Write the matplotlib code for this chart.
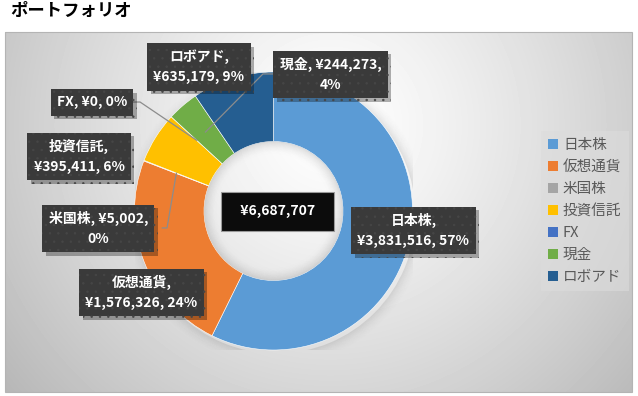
import numpy as np
import matplotlib
matplotlib.use("Agg")
import matplotlib.pyplot as plt
from matplotlib.patches import Rectangle, Wedge
from matplotlib import patheffects as pe

plt.rcParams['font.family'] = ['Noto Sans CJK JP', 'DejaVu Sans']

# データ
labels = ['日本株', '仮想通貨', '米国株', '投資信託', 'FX', '現金', 'ロボアド']
values = [3831516, 1576326, 5002, 395411, 0, 244273, 635179]
colors = ['#5B9BD5', '#ED7D31', '#A5A5A5', '#FFC000', '#4472C4', '#70AD47', '#255E91']

# ラベルの改行位置 (Excel の折り返しを再現)
breaks = ['name', 'name', 'value', 'name', None, 'value', 'name']
# ラベル位置 (データ座標, 半径=1)
label_xy = [(1.007, -0.140), (-0.950, -0.586), (-1.259, -0.126), (-1.399, 0.392),
            (-1.306, 0.781), (0.410, 0.982), (-0.536, 1.036)]
# 引き出し線の始点 (ラベル側) と折れ点
leader = {2: [(-0.80, -0.122), (-0.766, -0.122)],
          4: [(-1.04, 0.784), (-0.960, 0.784)],
          5: [(0.02, 0.986), (-0.076, 0.986)]}

W, H = 638, 396
fig = plt.figure(figsize=(W / 100, H / 100), dpi=100)
fig.patch.set_facecolor('white')

# 背景 (放射状グラデーション)
x0, x1, y0, y1 = 5, 632, 32, 392
bg = fig.add_axes([x0 / W, 1 - y1 / H, (x1 - x0) / W, (y1 - y0) / H])
xx, yy = np.meshgrid(np.arange(x0, x1), np.arange(y0, y1))
r = np.hypot(xx - 330, yy - 125) / 330
grad = np.clip(1 - 0.21 * r ** 1.25, 0, 1)
bg.imshow(grad, cmap='gray', vmin=0, vmax=1, aspect='auto', interpolation='bilinear')
bg.set_axis_off()
fig.add_artist(Rectangle((x0 / W, 1 - y1 / H), (x1 - x0) / W, (y1 - y0) / H,
                         transform=fig.transFigure, fill=False, ec='#b4b4b4', lw=0.8))

fig.text(10 / W, 1 - 11 / H, 'ポートフォリオ', fontsize=12.5, fontweight='bold',
         va='center', ha='left')

# ドーナツ
ax = fig.add_axes([134.5 / W, 1 - 350 / H, 278 / W, 278 / H])
ax.set_facecolor('none')

# 外側の影
for i in range(14):
    ax.add_patch(Wedge((0.02, -0.025), 1.0 + 0.007 * (i + 1), 0, 360, width=0.007,
                       fc='black', ec='none', alpha=0.09 * (1 - i / 14) ** 2, zorder=0))

wedges, _ = ax.pie(values, colors=colors, startangle=90, counterclock=False, radius=1,
                   wedgeprops=dict(width=0.5, edgecolor='white', linewidth=0.4))

# 内側の影
for i in range(14):
    ax.add_patch(Wedge((0.0, 0.0), 0.5 - 0.007 * i, 0, 360, width=0.007,
                       fc='black', ec='none', alpha=0.12 * (1 - i / 14) ** 2, zorder=2))

ax.set_xlim(-1, 1)
ax.set_ylim(-1, 1)
ax.set_axis_off()

total = sum(values)
plt.rcParams['hatch.linewidth'] = 0.5

box_style = dict(boxstyle='square,pad=0.45', fc='#3a3a3a', ec='#464646', lw=0, hatch='..')
shadow = [pe.SimplePatchShadow(offset=(2.5, -2.5), shadow_rgbFace='black', alpha=0.3),
          pe.Normal()]

acc = 0.0
for i, (name, v) in enumerate(zip(labels, values)):
    pct = round(v / total * 100)
    mid = 90 - 360 * (acc + v / total / 2)
    acc += v / total
    if breaks[i] == 'name':
        s = f'{name},\n¥{v:,}, {pct}%'
    elif breaks[i] == 'value':
        s = f'{name}, ¥{v:,},\n{pct}%'
    else:
        s = f'{name}, ¥{v:,}, {pct}%'
    lx, ly = label_xy[i]
    t = ax.text(lx, ly, s, ha='center', va='center', fontsize=10, fontweight='bold',
                color='white', linespacing=1.55, bbox=box_style, zorder=5, clip_on=False)
    t.get_bbox_patch().set_path_effects(shadow)
    if i in leader:
        end = (0.75 * np.cos(np.radians(mid)), 0.75 * np.sin(np.radians(mid)))
        pts = leader[i] + [end]
        ax.plot([p[0] for p in pts], [p[1] for p in pts], color='#8c8c8c', lw=0.9,
                zorder=3, clip_on=False)

# 中央の合計
ax.text(0.03, 0.0, f'  ¥{total:,}  ', ha='center', va='center', fontsize=10,
        fontweight='bold', color='white', zorder=5,
        bbox=dict(boxstyle='square,pad=0.9', fc='#0c0c0c', ec='#9a9a9a', lw=0.8))

leg = ax.legend(wedges, labels, loc='center left', bbox_to_anchor=(541 / W, 1 - 211 / H),
                bbox_transform=fig.transFigure, fontsize=10.5, labelcolor='#595959',
                frameon=True, facecolor='#dcdcdc', edgecolor='none', framealpha=0.6,
                fancybox=False, handlelength=0.65, handleheight=0.65, handletextpad=0.35,
                labelspacing=0.55, borderaxespad=0, borderpad=0.5)
for h in leg.legend_handles:
    h.set_edgecolor('none')

fig.savefig('out.png', dpi=100)
